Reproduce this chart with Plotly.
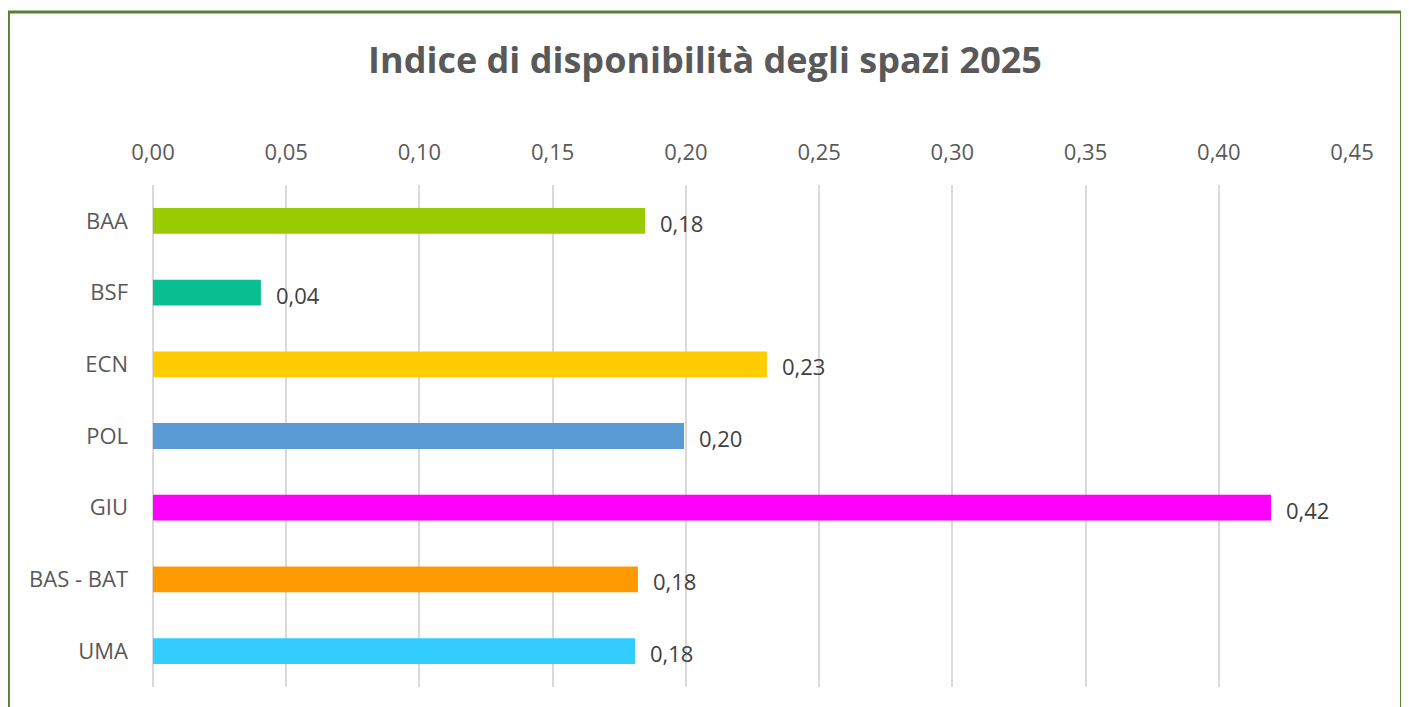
import plotly.graph_objects as go

# chart data, top to bottom as shown
categories = ["BAA", "BSF", "ECN", "POL", "GIU", "BAS - BAT", "UMA"]
values = [0.1847, 0.0405, 0.2304, 0.1993, 0.4196, 0.1820, 0.1809]
bar_colors = ["#99CC00", "#09BF92", "#FFCC00", "#5B9BD5", "#FF00FF", "#FF9900", "#33CCFF"]
tick_values = [0.0, 0.05, 0.10, 0.15, 0.20, 0.25, 0.30, 0.35, 0.40, 0.45]

FONT = "Open Sans"

fig = go.Figure()
fig.add_trace(
    go.Bar(
        x=values,
        y=categories,
        orientation="h",
        marker=dict(color=bar_colors, line_width=0),
        width=0.36,
        hovertemplate="%{y}: %{x:.2f}<extra></extra>",
    )
)

# value labels to the right of each bar
for cat, val in zip(categories, values):
    fig.add_annotation(
        x=val, y=cat, text=f"{val:.2f}".replace(".", ","),
        xanchor="left", yanchor="middle", xshift=13, yshift=-2,
        showarrow=False, font=dict(family=FONT, size=22, color="#404040"),
    )

# green frame around the chart
fig.add_shape(
    type="rect", xref="paper", yref="paper",
    x0=-0.1206, x1=1.0413, y0=-0.08, y1=1.3446,
    line=dict(color="#548235", width=3), fillcolor="rgba(0,0,0,0)", layer="above",
)

fig.update_layout(
    width=1409,
    height=707,
    separators=", ",
    paper_bgcolor="white",
    plot_bgcolor="white",
    showlegend=False,
    margin=dict(l=145, r=65, t=177, b=28),
    title=dict(
        text="<b>Indice di disponibilità degli spazi 2025</b>",
        x=697 / 1409, xref="container", xanchor="center",
        y=1 - 52 / 707, yref="container", yanchor="middle",
        font=dict(family=FONT, size=36, color="#595959"),
    ),
    font=dict(family=FONT, color="#595959"),
)
fig.update_xaxes(
    side="top",
    range=[0, 0.45],
    tickvals=tick_values,
    tickformat=".2f",
    tickfont=dict(family=FONT, size=22, color="#595959"),
    ticklabelstandoff=20,
    showgrid=True,
    gridcolor="#D9D9D9",
    gridwidth=2,
    zeroline=True,
    zerolinecolor="#D9D9D9",
    zerolinewidth=2,
    showline=False,
    ticks="",
    fixedrange=True,
)
fig.update_yaxes(
    categoryorder="array",
    categoryarray=categories,
    autorange="reversed",
    tickfont=dict(family=FONT, size=22, color="#595959"),
    ticklabelstandoff=24,
    showgrid=False,
    showline=False,
    ticks="",
    fixedrange=True,
)

fig.write_html("out.html")
